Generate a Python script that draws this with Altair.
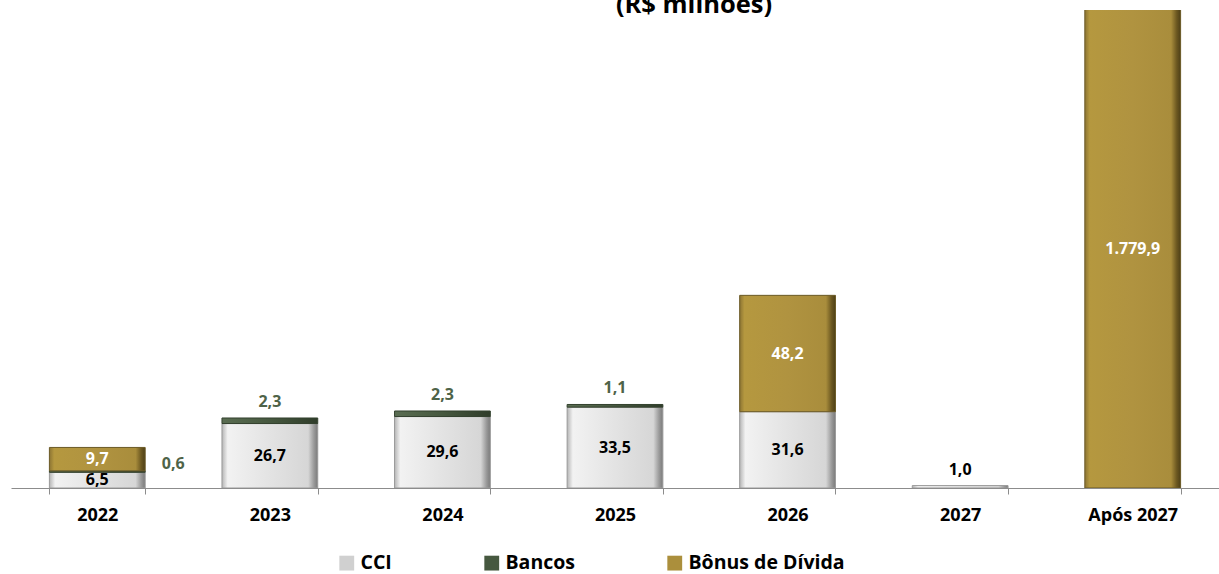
import altair as alt
import pandas as pd

# ---- data ----
years = ["2022", "2023", "2024", "2025", "2026", "2027", "Após 2027"]
cci = [6.5, 26.7, 29.6, 33.5, 31.6, 1.0, 0.0]
bancos = [0.6, 2.3, 2.3, 1.1, 0.0, 0.0, 0.0]
bonus = [9.7, 0.0, 0.0, 0.0, 48.2, 0.0, 1779.9]
series = ["CCI", "Bancos", "Bônus de Dívida"]

# ---- styling ----
legend_fills = ["#d0d0d0", "#46583f", "#ab8f3c"]
label_colors = {"CCI": "#000000", "Bancos": "#4e6348", "Bônus de Dívida": "#ffffff"}
Y_MAX = 198
FONT = "Open Sans"


def fmt(v):
    s = f"{v:,.1f}"
    return s.replace(",", "X").replace(".", ",").replace("X", ".")


rows = []
for i, yr in enumerate(years):
    vals = [cci[i], bancos[i], bonus[i]]
    base = 0.0
    for j, s in enumerate(series):
        v = vals[j]
        if v <= 0:
            continue
        top = base + v
        has_above = sum(vals[j + 1:]) > 0
        if v >= 5:
            place = "inside"
            ly = (base + min(top, Y_MAX)) / 2
        elif has_above:
            place = "right"
            ly = (base + top) / 2
        else:
            place = "above"
            ly = top
        rows.append(dict(year=yr, series=s, v=v, y0=base, y1=top,
                         label=fmt(v), place=place, ly=ly, lc=label_colors[s]))
        base = top

df = pd.DataFrame(rows)

x_enc = alt.X("year:N", sort=years,
              scale=alt.Scale(paddingInner=0.445, paddingOuter=0.2225),
              axis=alt.Axis(title=None, labelAngle=0, labelFont=FONT, labelFontSize=18,
                            labelFontWeight="bold", labelColor="#000000",
                            domainColor="#8c8c8c", tickColor="#8c8c8c",
                            tickSize=6, tickBand="extent", labelPadding=12,
                            grid=False))
y_scale = alt.Scale(domain=[0, Y_MAX], nice=False, zero=True)
y_enc = alt.Y("y0:Q", scale=y_scale, axis=None)


def grad(stops):
    return alt.LinearGradient(
        gradient="linear", x1=0, x2=1, y1=0, y2=0,
        stops=[alt.GradientStop(color=c, offset=o) for o, c in stops])


grads = {
    "CCI": grad([(0, "#b5b5b5"), (0.06, "#f2f2f2"), (0.5, "#e3e3e3"),
                 (0.9, "#d6d6d6"), (0.96, "#9a9a9a"), (1, "#7a7a7a")]),
    "Bancos": grad([(0, "#5a6d52"), (0.5, "#46583f"), (1, "#2f3c2a")]),
    "Bônus de Dívida": grad([(0, "#8c7433"), (0.05, "#b5983f"), (0.5, "#b09340"),
                             (0.9, "#a98d3c"), (0.96, "#6b5720"), (1, "#4d3f17")]),
}
strokes = {"CCI": "#9a9a9a", "Bancos": "#33412e", "Bônus de Dívida": "#6b5a26"}

base = alt.Chart(df)

bar_layers = []
for s in series:
    bar_layers.append(
        base.transform_filter(alt.datum.series == s)
        .mark_bar(color=grads[s], stroke=strokes[s], strokeWidth=1, clip=True)
        .encode(x=x_enc, y=y_enc, y2="y1:Q")
    )

legend_layer = base.mark_square(opacity=0, size=10).encode(
    x=x_enc,
    y=y_enc,
    color=alt.Color("series:N",
                    scale=alt.Scale(domain=series, range=legend_fills),
                    legend=alt.Legend(title=None, orient="none", direction="horizontal",
                                      legendX=326, legendY=543,
                                      symbolType="square", symbolSize=220,
                                      symbolOpacity=1, symbolStrokeWidth=0,
                                      labelFont=FONT, labelFontSize=19.5,
                                      labelFontWeight="bold", labelColor="#000000",
                                      labelLimit=400,
                                      labelOffset=4, columnPadding=90)),
)

lab_common = dict(font=FONT, fontSize=16, fontWeight="bold", baseline="middle", align="center")

inside = base.transform_filter(alt.datum.place == "inside").mark_text(**lab_common).encode(
    x=x_enc, y=alt.Y("ly:Q", scale=y_scale, axis=None), text="label:N",
    color=alt.Color("lc:N", scale=None))
above = base.transform_filter(alt.datum.place == "above").mark_text(dy=-16, **lab_common).encode(
    x=x_enc, y=alt.Y("ly:Q", scale=y_scale, axis=None), text="label:N",
    color=alt.Color("lc:N", scale=None))
right = base.transform_filter(alt.datum.place == "right").mark_text(dx=76, dy=-8, **lab_common).encode(
    x=x_enc, y=alt.Y("ly:Q", scale=y_scale, axis=None), text="label:N",
    color=alt.Color("lc:N", scale=None))

title = alt.Chart(pd.DataFrame({"t": ["(R$ milhões)"]})).mark_text(
    font=FONT, fontSize=25.5, fontWeight="bold", baseline="alphabetic", align="center",
    color="#000000").encode(x=alt.value(683), y=alt.value(3), text="t:N")

chart = alt.layer(*bar_layers, legend_layer, inside, above, right, title).properties(
    width=1208, height=478,
    background="#ffffff",
    autosize=alt.AutoSizeParams(type="none"),
    padding={"left": 11, "top": 10, "right": 0, "bottom": 86},
).configure_view(stroke=None)

chart.save("out.html", embed_options={"renderer": "svg", "actions": False})
